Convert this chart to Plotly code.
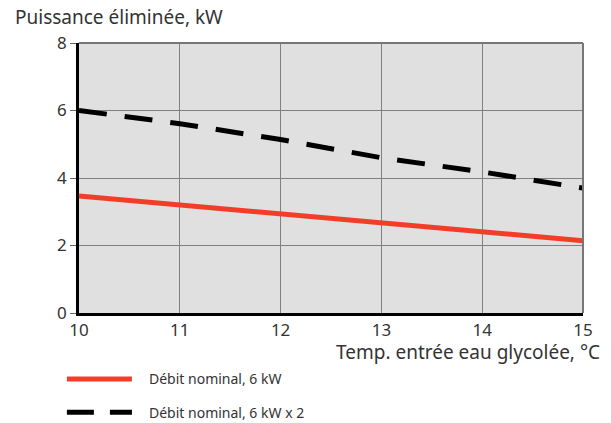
import plotly.graph_objects as go

temp_c = [10, 11, 12, 13, 14, 15]
power_single = [3.47, 3.20, 2.92, 2.67, 2.40, 2.14]
power_double = [6.00, 5.61, 5.14, 4.60, 4.18, 3.70]
series_names = ["Débit nominal, 6 kW", "Débit nominal, 6 kW x 2"]
x_ticks = [10, 11, 12, 13, 14, 15]
y_ticks = [0, 2, 4, 6, 8]

RED = "#f23e28"
FONT = "Noto Sans"
TXT = "#333333"

fig = go.Figure()
fig.add_trace(go.Scatter(x=temp_c, y=power_single, mode="lines", name=series_names[0],
                         line=dict(color=RED, width=5), showlegend=False))
fig.add_trace(go.Scatter(x=temp_c, y=power_double, mode="lines", name=series_names[1],
                         line=dict(color="black", width=5, dash="28px,18px"), showlegend=False))

# hand-drawn legend below the plot (wide sample lines like the original)
legend_rows = [(-0.244, dict(color=RED, width=5)),
               (-0.368, dict(color="black", width=5, dash="27px,16px"))]
shapes = []
annotations = []
for (yp, ln), name in zip(legend_rows, series_names):
    shapes.append(dict(type="line", xref="paper", yref="paper", x0=-0.024, x1=0.105,
                       y0=yp, y1=yp, line=ln))
    annotations.append(dict(text=name, xref="paper", yref="paper", x=0.135, y=yp,
                            xanchor="left", yanchor="middle", showarrow=False,
                            font=dict(family=FONT, size=14, color=TXT)))

# grey top / right frame
shapes += [
    dict(type="line", xref="paper", yref="paper", x0=0, x1=1, y0=1, y1=1,
         line=dict(color="#777777", width=2)),
    dict(type="line", xref="paper", yref="paper", x0=1, x1=1, y0=0, y1=1,
         line=dict(color="#777777", width=2)),
]

annotations += [
    dict(text="Puissance éliminée, kW", xref="paper", yref="paper", x=-0.131, y=1.097,
         xanchor="left", yanchor="middle", showarrow=False,
         font=dict(family=FONT, size=19, color=TXT)),
    dict(text="Temp. entrée eau glycolée, °C", xref="paper", yref="paper", x=1.038, y=-0.145,
         xanchor="right", yanchor="middle", showarrow=False,
         font=dict(family=FONT, size=19, color=TXT)),
]

fig.update_layout(
    width=611, height=423,
    margin=dict(l=79, r=28, t=43, b=110),
    paper_bgcolor="white",
    plot_bgcolor="#e0e0e0",
    shapes=shapes,
    annotations=annotations,
    font=dict(family=FONT, size=17, color=TXT),
    xaxis=dict(range=[10, 15], tickvals=x_ticks, showgrid=True, gridcolor="#808080",
               gridwidth=1, showline=True, linecolor="black", linewidth=2.5,
               ticks="", zeroline=False, tickfont=dict(size=17, color=TXT)),
    yaxis=dict(range=[0, 8], tickvals=y_ticks, showgrid=True, gridcolor="#808080",
               gridwidth=1, showline=True, linecolor="black", linewidth=2.5,
               ticks="outside", ticklen=6, tickcolor="#666666", zeroline=False,
               tickfont=dict(size=17, color=TXT)),
)

# drop the default 8px page margin so the figure sits at the window's corner
fig.write_html("out.html", config={"displayModeBar": False},
               post_script="document.body.style.margin='0';")
